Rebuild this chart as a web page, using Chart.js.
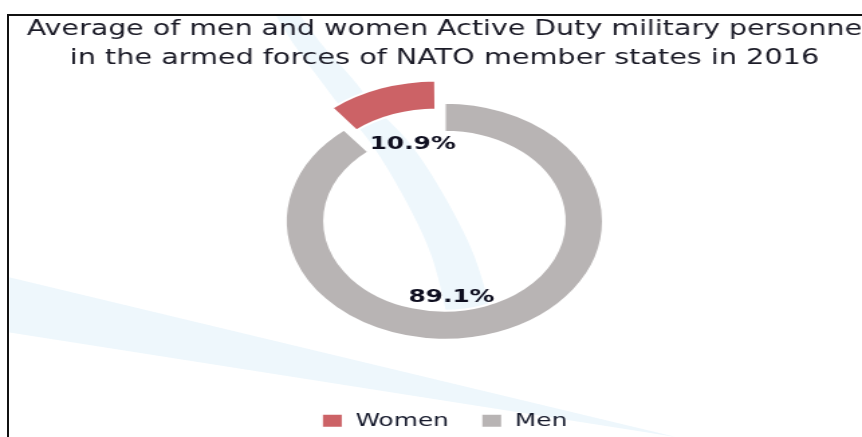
<!DOCTYPE html>
<html>
<head>
<meta charset="utf-8">
<script src="https://cdn.jsdelivr.net/npm/chart.js@4.4.1/dist/chart.umd.min.js"></script>
<style>
  html, body { margin: 0; padding: 0; background: #ffffff; width: 862px; height: 437px; overflow: hidden; }
  #stage { position: absolute; left: 0; top: 0; width: 643px; height: 437px; transform: scaleX(1.34059); transform-origin: 0 0; }
  #frame { position: absolute; left: 7px; top: 14px; width: 855px; height: 423px; box-sizing: border-box;
           border-top: 2px solid #111; border-left: 2px solid #111; pointer-events: none; }
</style>
</head>
<body>
<div id="stage"><canvas id="chart"></canvas></div>
<div id="frame"></div>
<script>
// ---- data ----
const categories = ['Women', 'Men'];
const shares = [10.9, 89.1];
const titleLines = [
  'Average of men and women Active Duty military personne',
  'in the armed forces of NATO member states in 2016'
];
const sliceColors = ['#cc6266', '#b8b4b4'];
const valueLabels = shares.map(v => v.toFixed(1) + '%');

// ---- helpers ----
const STRETCH = 862 / 643;
const total = shares.reduce((a, b) => a + b, 0);
const startRotation = -(shares[0] / total) * 360;

function smoothPath(ctx, pts, k, first) {
  pts.forEach(([x, y], i) => {
    if (i === 0) { first ? ctx.moveTo(x * k, y) : ctx.lineTo(x * k, y); return; }
    const [px, py] = pts[i - 1];
    if (i === pts.length - 1) { ctx.quadraticCurveTo(px * k, py, x * k, y); return; }
    if (i === 1) { ctx.lineTo(px * k, py); }
    ctx.quadraticCurveTo(px * k, py, ((px + x) / 2) * k, (py + y) / 2);
  });
}

// light-blue decorative swooshes behind the chart
const swooshPlugin = {
  id: 'swooshes',
  beforeDraw(chart) {
    const ctx = chart.ctx;
    const k = 1 / STRETCH;
    ctx.save();
    ctx.beginPath();
    ctx.rect(9 * k, 16, chart.width, chart.height);
    ctx.clip();
    ctx.fillStyle = '#eef7fc';
    ctx.beginPath();
    ctx.moveTo(0, 275);
    ctx.lineTo(676 * k, 437);
    ctx.lineTo(0, 331);
    ctx.closePath();
    ctx.fill();
    const L = [[274,12],[292,43],[318,77],[340,107],[376,147],[426,237],[442,290],[448,322]];
    const R = [[298,12],[319,43],[352,77],[374,107],[416,147],[468,237],[486,290],[492,322]];
    ctx.beginPath();
    smoothPath(ctx, L, k, true);
    smoothPath(ctx, R.slice().reverse(), k, false);
    ctx.closePath();
    ctx.fill();
    ctx.restore();
  }
};

// percentage labels placed inside the ring
const sliceLabelPlugin = {
  id: 'sliceLabels',
  afterDatasetsDraw(chart, args, opts) {
    const meta = chart.getDatasetMeta(0);
    const ctx = chart.ctx;
    ctx.save();
    ctx.font = opts.font;
    ctx.fillStyle = opts.color;
    ctx.textAlign = 'center';
    ctx.textBaseline = 'middle';
    meta.data.forEach((arc, i) => {
      const a = opts.angles[i] != null ? (opts.angles[i] - 90) * Math.PI / 180 : (arc.startAngle + arc.endAngle) / 2;
      const r = arc.innerRadius * opts.radial[i];
      ctx.fillText(valueLabels[i], arc.x + Math.cos(a) * r, arc.y + Math.sin(a) * r);
    });
    ctx.restore();
  }
};

new Chart(document.getElementById('chart'), {
  type: 'doughnut',
  data: {
    labels: categories,
    datasets: [{
      data: shares,
      backgroundColor: sliceColors,
      borderColor: '#ffffff',
      borderWidth: 2,
      offset: [68, 0]
    }]
  },
  plugins: [swooshPlugin, sliceLabelPlugin],
  options: {
    responsive: true,
    maintainAspectRatio: false,
    animation: false,
    events: [],
    rotation: startRotation,
    radius: 118.5,
    cutout: '75.5%',
    layout: { padding: { left: 20, right: 0, top: 0, bottom: -3 } },
    plugins: {
      tooltip: { enabled: false },
      title: {
        display: true,
        text: titleLines,
        color: '#1b1b27',
        font: { family: '"DejaVu Sans", sans-serif', size: 21.4, weight: 'normal', lineHeight: 1.341 },
        padding: { top: 15, bottom: 0 }
      },
      legend: {
        position: 'bottom',
        title: { display: true, text: '', padding: 0, font: { size: 14, lineHeight: 1.25 } },
        labels: {
          boxWidth: 16,
          boxHeight: 14,
          padding: 24,
          color: '#161a2c',
          font: { family: '"DejaVu Sans", sans-serif', size: 18.5 }
        }
      },
      sliceLabels: {
        font: 'bold 18.5px "DejaVu Sans", sans-serif',
        color: '#0f0f20',
        angles: [-17, 176],
        radial: [0.905, 0.85]
      }
    }
  }
});
</script>
</body>
</html>
